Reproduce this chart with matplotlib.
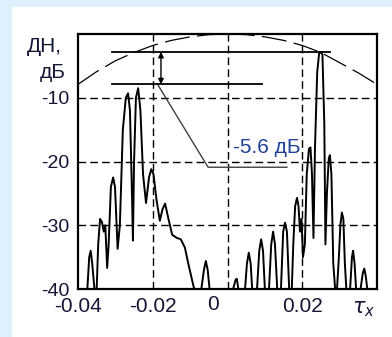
import numpy as np
import matplotlib.pyplot as plt
from matplotlib.patches import Rectangle

# pattern (dB) vs tau_x
tau = [-0.0400, -0.0375, -0.0370, -0.0366, -0.0362, -0.0356, -0.0350, -0.0346, -0.0341, -0.0336,
       -0.0331, -0.0327, -0.0322, -0.0318, -0.0312, -0.0306, -0.0301, -0.0294, -0.0288, -0.0280,
       -0.0272, -0.0266, -0.0261, -0.0256, -0.0253, -0.0250, -0.0245, -0.0239, -0.0233, -0.0226,
       -0.0218, -0.0210, -0.0204, -0.0198, -0.0190, -0.0181, -0.0174, -0.0167, -0.0158, -0.0148,
       -0.0135, -0.0125, -0.0114, -0.0105, -0.0090, -0.0087, -0.0070, -0.0063, -0.0058, -0.0053,
       -0.0048, 0.0015, 0.0022, 0.0025, 0.0029, 0.0047, 0.0052, 0.0057, 0.0062, 0.0066,
       0.0079, 0.0085, 0.0090, 0.0095, 0.0100, 0.0111, 0.0117, 0.0122, 0.0127, 0.0133,
       0.0143, 0.0149, 0.0154, 0.0159, 0.0165, 0.0172, 0.0176, 0.0181, 0.0186, 0.0190,
       0.0194, 0.0198, 0.0202, 0.0207, 0.0212, 0.0218, 0.0222, 0.0226, 0.0230, 0.0234,
       0.0240, 0.0245, 0.0249, 0.0254, 0.0259, 0.0262, 0.0266, 0.0271, 0.0274, 0.0278,
       0.0283, 0.0288, 0.0293, 0.0298, 0.0302, 0.0306, 0.0310, 0.0314, 0.0318, 0.0328,
       0.0333, 0.0336, 0.0340, 0.0344, 0.0356, 0.0362, 0.0366, 0.0370, 0.0374, 0.0400]
dn = [-40, -40, -35, -34, -36, -40, -40, -33, -29, -29.5,
      -31, -30, -36.7, -33, -24, -22.5, -24, -33.7, -30, -15,
      -10, -9.3, -12, -24, -32.4, -20, -10, -8.5, -12, -22,
      -26.5, -22.5, -21.2, -22, -26, -29.3, -27.5, -26.6, -29, -31.5,
      -32, -32.2, -33.5, -36, -39.8, -40, -40, -37, -35.6, -37,
      -40, -40, -38.5, -38.4, -40, -40, -36, -34.3, -36, -40,
      -40, -34, -32.2, -34, -40, -40, -33, -31, -33, -40,
      -40, -31, -29.6, -31, -40, -40, -33, -27, -25.7, -27,
      -31, -29, -35, -33, -22, -18, -17.8, -22, -32, -18,
      -6, -3.1, -2.8, -3.2, -14, -33, -25, -19.5, -19, -22,
      -36, -40, -40, -35, -30, -28, -29, -36, -40, -40,
      -35, -34, -36, -40, -40, -37.5, -36.8, -38, -40, -40]

# dashed envelope
env_tau = [-0.04, -0.035, -0.03, -0.025, -0.02, -0.015, -0.01, -0.005, 0,
           0.005, 0.01, 0.015, 0.02, 0.025, 0.03, 0.035, 0.04]
env_dn = [-7.9, -5.9, -4.2, -2.9, -1.8, -1.0, -0.45, -0.1, 0,
          -0.1, -0.45, -1.0, -1.8, -2.9, -4.5, -6.1, -7.9]

# levels marked on the plot
top_level = -2.8
side_level = -7.9
level_text = '-5.6 дБ'

xticks = [-0.04, -0.02, 0, 0.02]
xlabels = ['-0.04', '-0.02', '', '0.02']
yticks = [-40, -30, -20, -10]
ylabels = ['-40', '-30', '-20', '-10']

txt = '#151535'
plt.rcParams['font.family'] = ['Liberation Sans', 'DejaVu Sans']

fig = plt.figure(figsize=(3.92, 3.37), dpi=100)
fig.patch.set_facecolor('#def0fc')
fig.patches.append(Rectangle((12 / 392, 0), 1, 1 - 7 / 337, transform=fig.transFigure,
                             facecolor='white', edgecolor='none', zorder=-10))

ax = fig.add_axes([78 / 392, 48 / 337, 299 / 392, 255 / 337])
ax.set_xlim(-0.04, 0.04)
ax.set_ylim(-40, 0)

ax.plot(env_tau, env_dn, color='black', lw=0.9, linestyle=(0, (20, 6)))
ax.plot(tau, dn, color='black', lw=1.4)

# grid
for v in [-0.02, 0, 0.02]:
    ax.axvline(v, color='black', lw=1.0, linestyle=(0, (5.5, 3)))
for v in [-10, -20, -30]:
    ax.axhline(v, color='black', lw=1.0, linestyle=(0, (5.5, 3)))

# level lines, arrow and leader
ax.plot([-0.0309, 0.0274], [top_level, top_level], color='black', lw=1.3)
ax.plot([-0.0309, 0.0092], [side_level, side_level], color='black', lw=1.3)
ax.annotate('', xy=(-0.0178, top_level), xytext=(-0.0178, side_level),
            arrowprops=dict(arrowstyle='<|-|>', color='black', lw=1,
                            mutation_scale=8, shrinkA=0, shrinkB=0))
ax.plot([-0.0186, -0.0052, 0.0159], [side_level - 0.1, -20.9, -20.9], color='#404040', lw=1)
ax.text(0.0106, -17.8, level_text, ha='center', va='center', fontsize=15, color='#20409a')

ax.set_xticks(xticks)
ax.set_xticklabels(xlabels)
ax.set_yticks(yticks)
ax.set_yticklabels(ylabels)
ax.tick_params(length=0, colors=txt)
ax.tick_params(axis='x', labelsize=15, pad=6)
ax.tick_params(axis='y', labelsize=14, pad=6)
ax.annotate('0', xy=(0, 0), xycoords=('data', 'axes fraction'), xytext=(-14, -6),
            textcoords='offset pixels', ha='center', va='top', fontsize=15, color=txt)

for s in ax.spines.values():
    s.set_linewidth(1.6)
    s.set_color('black')

fig.text(44 / 392, 1 - 47 / 337, 'ДН,', ha='center', va='center', fontsize=15, color=txt)
fig.text(53 / 392, 1 - 72 / 337, 'дБ', ha='center', va='center', fontsize=15, color=txt)
fig.text(364 / 392, 1 - 309 / 337, r'$\tau_x$', ha='center', va='center', fontsize=15, color=txt)

fig.savefig('out.png', dpi=100, facecolor=fig.get_facecolor())
